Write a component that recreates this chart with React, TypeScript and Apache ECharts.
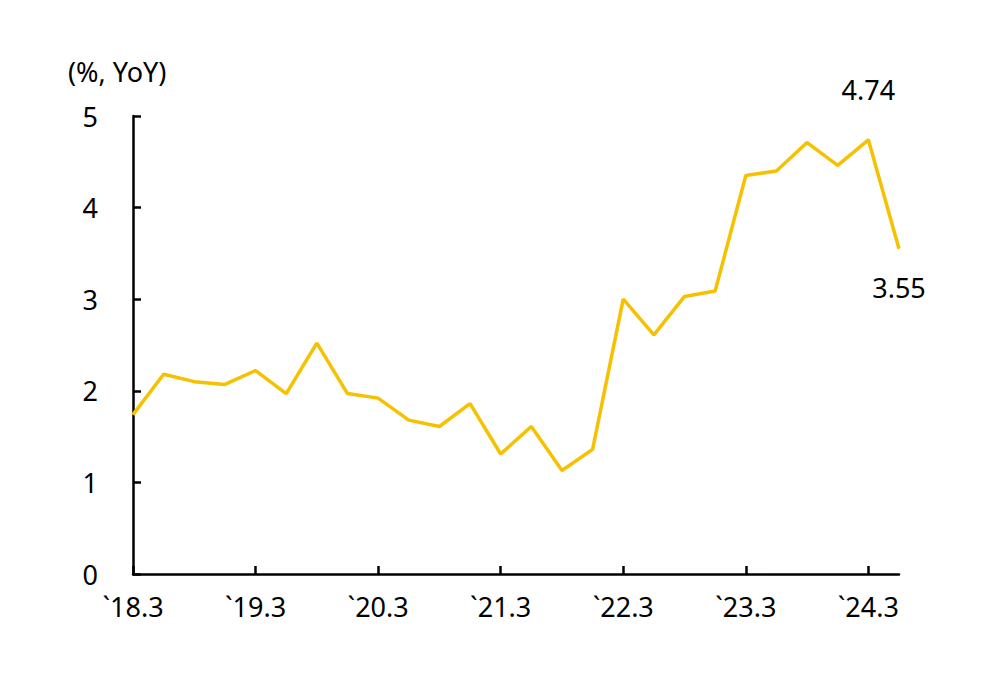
import React, { useEffect, useRef } from "react";
import * as echarts from "echarts";

const categories = [
  "`18.3", "`18.6", "`18.9", "`18.12",
  "`19.3", "`19.6", "`19.9", "`19.12",
  "`20.3", "`20.6", "`20.9", "`20.12",
  "`21.3", "`21.6", "`21.9", "`21.12",
  "`22.3", "`22.6", "`22.9", "`22.12",
  "`23.3", "`23.6", "`23.9", "`23.12",
  "`24.3", "`24.6",
];

const values = [
  1.74, 2.18, 2.10, 2.07,
  2.22, 1.97, 2.52, 1.97,
  1.92, 1.68, 1.61, 1.86,
  1.31, 1.61, 1.13, 1.36,
  3.00, 2.61, 3.03, 3.09,
  4.35, 4.40, 4.71, 4.46,
  4.74, 3.55,
];

const yTicks = [0, 1, 2, 3, 4, 5];
const unitLabel = "(%, YoY)";

const FONT = "'Noto Sans', 'Open Sans', sans-serif";
const LINE = "#F5C100";

export default function App() {
  const ref = useRef<HTMLDivElement>(null);
  useEffect(() => {
    if (!ref.current) return;
    const chart = echarts.init(ref.current, undefined, { renderer: "svg" });
    const n = values.length;
    const data = values.map((v, i) => {
      if (i === n - 2) {
        return {
          value: v,
          label: { show: true, position: "top", distance: 36, formatter: "{c}" },
        };
      }
      if (i === n - 1) {
        return {
          value: v,
          label: { show: true, position: "bottom", distance: 25, formatter: "{c}" },
        };
      }
      return { value: v };
    });
    chart.setOption({
      animation: false,
      backgroundColor: "#ffffff",
      grid: { left: 125, right: 89, top: 108, bottom: 92, containLabel: false },
      graphic: [
        {
          type: "text",
          left: 60,
          top: 50,
          style: { text: unitLabel, fontSize: 27, fontFamily: FONT, fill: "#000" },
        },
      ],
      xAxis: {
        type: "category",
        data: categories,
        boundaryGap: false,
        axisLine: { lineStyle: { color: "#000", width: 2.5 } },
        axisTick: { inside: true, length: 8, interval: 3, lineStyle: { color: "#000", width: 2.5 } },
        axisLabel: { interval: 3, color: "#000", fontSize: 27, fontFamily: FONT, margin: 19 },
        splitLine: { show: false },
      },
      yAxis: {
        type: "value",
        min: yTicks[0],
        max: yTicks[yTicks.length - 1],
        interval: 1,
        axisLine: { show: true, lineStyle: { color: "#000", width: 2.5 } },
        axisTick: { show: true, inside: true, length: 8, lineStyle: { color: "#000", width: 2.5 } },
        axisLabel: { color: "#000", fontSize: 27, fontFamily: FONT, margin: 35 },
        splitLine: { show: false },
      },
      series: [
        {
          type: "line",
          data,
          symbol: "circle",
          symbolSize: 1,
          showAllSymbol: true,
          itemStyle: { color: LINE },
          lineStyle: { color: LINE, width: 3.5 },
          label: { color: "#000", fontSize: 27, fontFamily: FONT },
          z: 3,
        },
      ],
    });
    return () => chart.dispose();
  }, []);
  return <div ref={ref} style={{ width: 980, height: 658 }} />;
}
